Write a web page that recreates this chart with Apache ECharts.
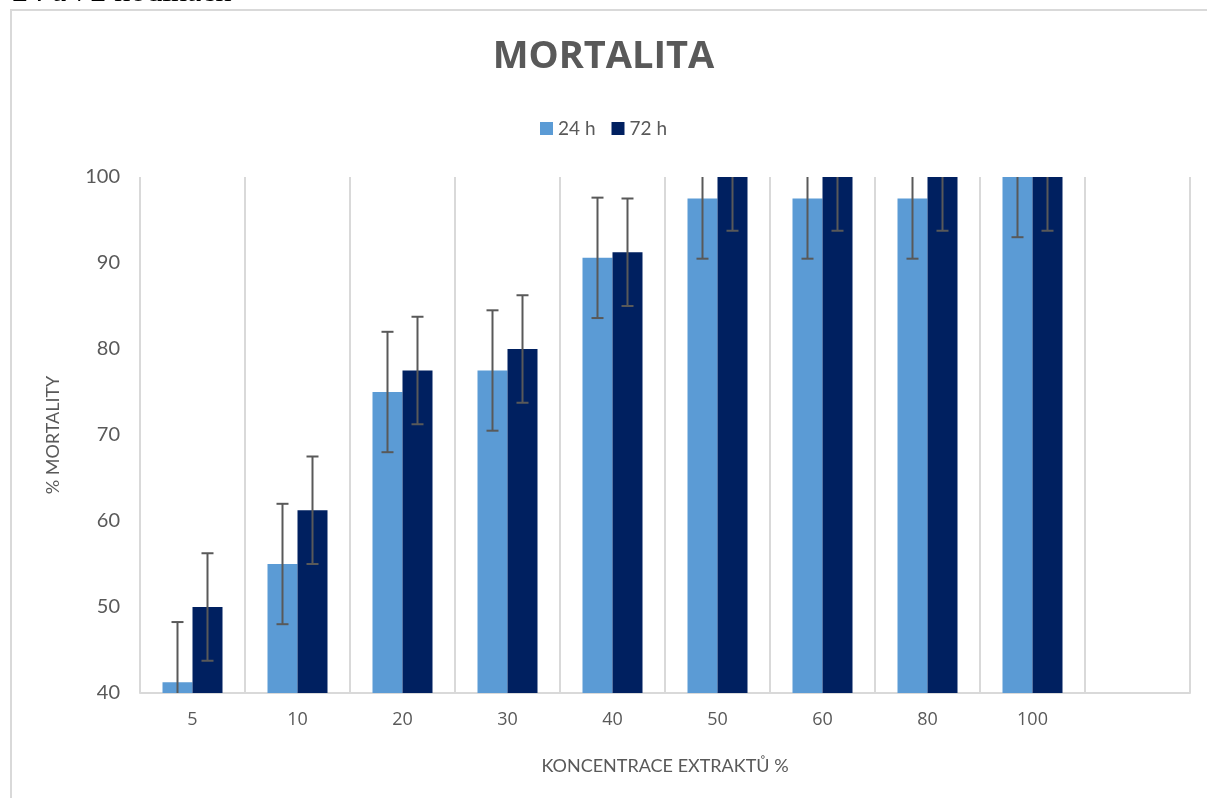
<!DOCTYPE html>
<html>
<head>
<meta charset="utf-8">
<script src="https://cdn.jsdelivr.net/npm/echarts@6/dist/echarts.min.js"></script>
<style>
html,body{margin:0;padding:0;background:#fff;}
#chart{width:1207px;height:798px;}
</style>
</head>
<body>
<div id="chart"></div>
<script>
const categories = ['5', '10', '20', '30', '40', '50', '60', '80', '100', ''];
const mort24 = [41.25, 55, 75, 77.5, 90.6, 97.5, 97.5, 97.5, 100];
const mort72 = [50, 61.25, 77.5, 80, 91.25, 100, 100, 100, 100];
const err24 = [7, 7, 7, 7, 7, 7, 7, 7, 7];
const err72 = [6.25, 6.25, 6.25, 6.25, 6.25, 6.25, 6.25, 6.25, 6.25];

const FONT = 'Lato, "Open Sans", sans-serif';
const GREY = '#595959';
const BAR_W = 30;

const chart = echarts.init(document.getElementById('chart'));

function errData(vals, errs) {
  return vals.map((v, i) => [i, v - errs[i], v + errs[i]]);
}

function errRender(offsetSign) {
  return function (params, api) {
    const i = api.value(0);
    const lo = api.coord([i, api.value(1)]);
    const hi = api.coord([i, api.value(2)]);
    const x = lo[0] + offsetSign * BAR_W / 2;
    const cap = 6;
    const style = { stroke: GREY, lineWidth: 2 };
    return {
      type: 'group',
      children: [
        { type: 'line', shape: { x1: x, y1: lo[1], x2: x, y2: hi[1] }, style: style },
        { type: 'line', shape: { x1: x - cap, y1: lo[1], x2: x + cap, y2: lo[1] }, style: style },
        { type: 'line', shape: { x1: x - cap, y1: hi[1], x2: x + cap, y2: hi[1] }, style: style }
      ]
    };
  };
}

chart.setOption({
  animation: false,
  backgroundColor: '#fff',
  graphic: [
    {
      type: 'rect',
      shape: { x: 11, y: 10, width: 1300, height: 900 },
      style: { fill: 'none', stroke: '#d9d9d9', lineWidth: 2 },
      silent: true
    },
    {
      type: 'text',
      left: 12,
      top: -23.5,
      style: { text: '24 a 72 hodinách', font: '32px "Liberation Serif", "Times New Roman", serif', fill: '#000' },
      silent: true
    }
  ],
  title: {
    text: 'MORTALITA',
    left: 'center',
    top: 33,
    textStyle: { fontFamily: '"Open Sans", Lato, sans-serif', fontWeight: 'bold', fontSize: 38, color: GREY }
  },
  legend: {
    top: 114,
    left: 'center',
    itemWidth: 13,
    itemHeight: 13,
    itemGap: 16,
    icon: 'rect',
    textStyle: { fontFamily: FONT, fontSize: 19, color: GREY },
    data: ['24 h', '72 h']
  },
  grid: { left: 140, right: 17, top: 177, bottom: 105, containLabel: false },
  xAxis: {
    type: 'category',
    data: categories,
    boundaryGap: true,
    name: 'KONCENTRACE EXTRAKTŮ %',
    nameLocation: 'middle',
    nameGap: 64,
    nameTextStyle: { fontFamily: FONT, fontSize: 18, color: GREY },
    axisLine: { show: true, lineStyle: { color: '#d9d9d9', width: 2 } },
    axisTick: { show: false },
    axisLabel: { fontFamily: '"Open Sans", Lato, sans-serif', fontSize: 18, color: GREY, margin: 18, interval: 0 },
    splitLine: { show: true, interval: 0, lineStyle: { color: '#d9d9d9', width: 2 } }
  },
  yAxis: {
    type: 'value',
    min: 40,
    max: 100,
    interval: 10,
    name: '% MORTALITY',
    nameLocation: 'middle',
    nameGap: 78,
    nameRotate: 90,
    nameTextStyle: { fontFamily: FONT, fontSize: 18, color: GREY },
    axisLine: { show: false },
    axisTick: { show: false },
    axisLabel: { fontFamily: FONT, fontSize: 20, color: GREY, margin: 20 },
    splitLine: { show: false }
  },
  series: [
    {
      name: '24 h',
      type: 'bar',
      data: mort24,
      barWidth: BAR_W,
      barGap: '0%',
      itemStyle: { color: '#5b9bd5' }
    },
    {
      name: '72 h',
      type: 'bar',
      data: mort72,
      barWidth: BAR_W,
      barGap: '0%',
      itemStyle: { color: '#002060' }
    },
    {
      name: 'err24',
      type: 'custom',
      clip: true,
      renderItem: errRender(-1),
      data: errData(mort24, err24),
      encode: { x: 0, y: [1, 2] },
      z: 10
    },
    {
      name: 'err72',
      type: 'custom',
      clip: true,
      renderItem: errRender(1),
      data: errData(mort72, err72),
      encode: { x: 0, y: [1, 2] },
      z: 10
    }
  ]
});
</script>
</body>
</html>
